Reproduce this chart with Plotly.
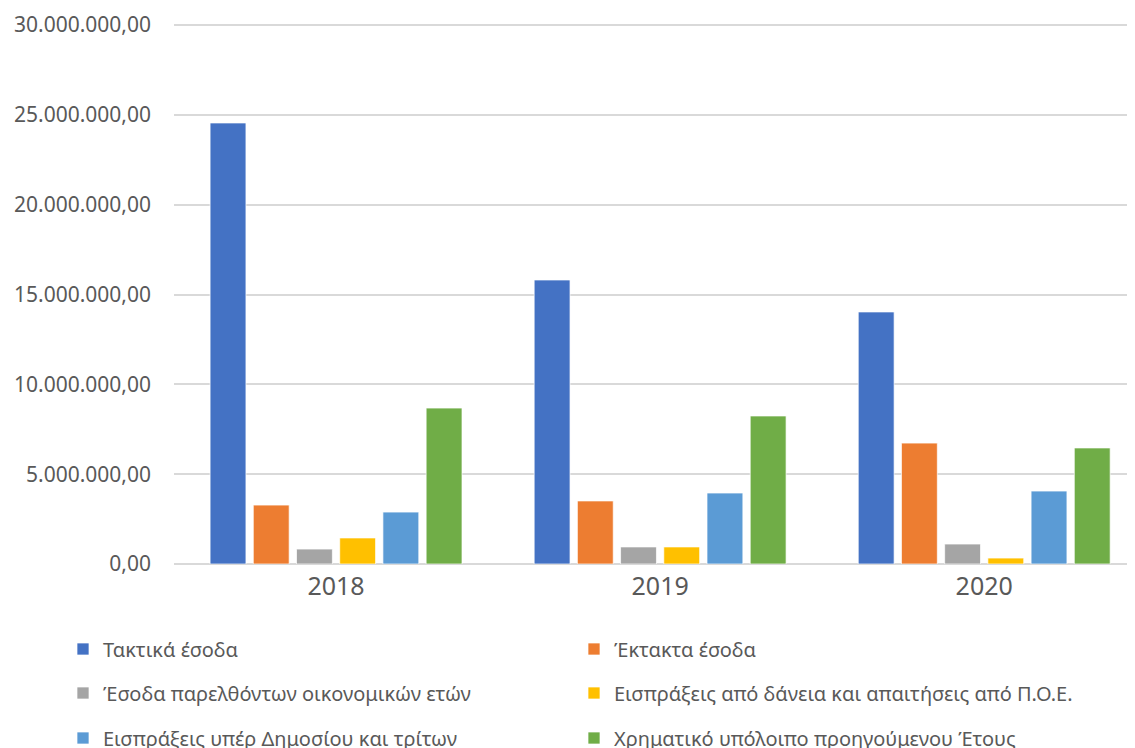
import plotly.graph_objects as go

years = ["2018", "2019", "2020"]

series_names = [
    "Τακτικά έσοδα",
    "Έκτακτα έσοδα",
    "Έσοδα παρελθόντων οικονομικών ετών",
    "Εισπράξεις από δάνεια και απαιτήσεις από Π.Ο.Ε.",
    "Εισπράξεις υπέρ Δημοσίου και τρίτων",
    "Χρηματικό υπόλοιπο προηγούμενου Έτους",
]

taktika = [24550000, 15810000, 14030000]
ektakta = [3280000, 3510000, 6730000]
pareltonton = [830000, 950000, 1110000]
daneia = [1450000, 950000, 330000]
yper_dimosiou = [2890000, 3950000, 4060000]
ypoloipo = [8680000, 8240000, 6460000]

values = [taktika, ektakta, pareltonton, daneia, yper_dimosiou, ypoloipo]
colors = ["#4472C4", "#ED7D31", "#A5A5A5", "#FFC000", "#5B9BD5", "#70AD47"]

W, H = 1135, 748
FONT = "Noto Sans, Open Sans, sans-serif"
GREY = "#595959"

# legend grid: two columns, three rows (pixel positions of each entry)
col_x = [55, 566]
row_y = [641, 685, 730]

fig = go.Figure()
legends = {}
for i, (name, vals, col) in enumerate(zip(series_names, values, colors)):
    lid = "legend" if i == 0 else f"legend{i + 1}"
    fig.add_trace(go.Bar(
        x=years, y=vals, name=name, legend=lid, showlegend=True,
        marker=dict(color=col, line=dict(color="rgba(255,255,255,0.7)", width=1)),
    ))
    legends[lid] = dict(
        xref="container", yref="container",
        x=col_x[i % 2] / W, y=1 - row_y[i // 2] / H,
        xanchor="left", yanchor="middle",
        font=dict(family=FONT, size=20, color=GREY),
        bgcolor="rgba(0,0,0,0)", itemclick=False,
    )

fig.update_layout(
    width=W, height=H,
    margin=dict(l=166, r=0, t=16, b=192, autoexpand=False),
    paper_bgcolor="white", plot_bgcolor="white",
    showlegend=True,
    separators=",.",
    barmode="group", bargap=0.2, bargroupgap=0.17,
    font=dict(family=FONT, color=GREY),
    xaxis=dict(
        range=[-0.5, 2.49], showgrid=False, showline=False,
        tickfont=dict(size=25, color=GREY), ticks="", ticklabelstandoff=5,
    ),
    yaxis=dict(
        range=[0, 30060000], tickvals=[0, 5000000, 10000000, 15000000, 20000000, 25000000, 30000000],
        tickformat=",.2f",
        gridcolor="#D9D9D9", gridwidth=1.5,
        zeroline=True, zerolinecolor="#D9D9D9", zerolinewidth=1.5,
        tickfont=dict(size=21, color=GREY), ticklabelstandoff=22,
    ),
    **legends,
)

fig.write_html("out.html")
